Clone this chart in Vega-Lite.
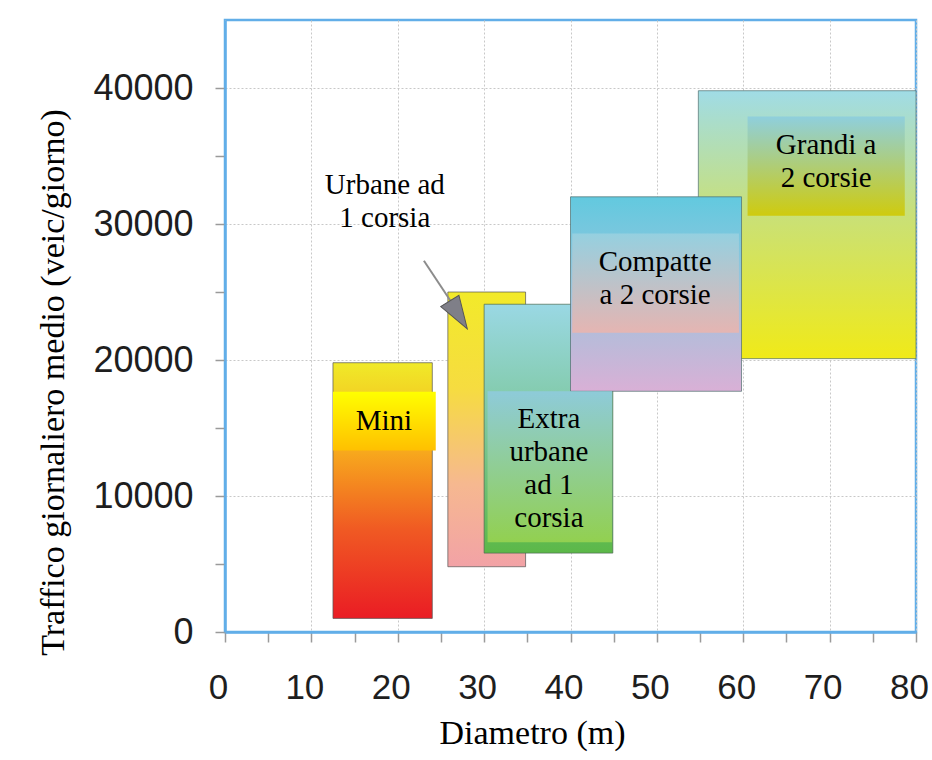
{
  "$schema": "https://vega.github.io/schema/vega-lite/v6.json",
  "width": 691,
  "height": 612,
  "autosize": {"type": "none"},
  "padding": {"left": 225, "top": 20, "right": 16, "bottom": 128},
  "background": "white",
  "config": {"view": {"stroke": "#62aee8", "strokeWidth": 2.5}},
  "datasets": {
    "boxes": [
      {"k": "mini", "x1": 12.5, "x2": 24.0, "y1": 1000, "y2": 19800},
      {"k": "urb", "x1": 25.8, "x2": 34.8, "y1": 4800, "y2": 25000},
      {"k": "ext", "x1": 30, "x2": 44.9, "y1": 5800, "y2": 24100},
      {"k": "gra", "x1": 54.8, "x2": 80, "y1": 20100, "y2": 39800},
      {"k": "com", "x1": 40, "x2": 59.8, "y1": 17700, "y2": 32000},
      {"k": "mini_l", "x1": 12.5, "x2": 24.4, "y1": 13350, "y2": 17670},
      {"k": "ext_l", "x1": 30.4, "x2": 44.8, "y1": 6600, "y2": 17700},
      {"k": "com_l", "x1": 40.2, "x2": 59.5, "y1": 22000, "y2": 29300},
      {"k": "gra_l", "x1": 60.5, "x2": 78.7, "y1": 30600, "y2": 37900}
    ],
    "labels": [
      {"t": "Mini", "x1": 18.4, "y1": 15540},
      {"t": "Extra\nurbane\nad 1\ncorsia", "x1": 37.5, "y1": 15680},
      {"t": "Compatte\na 2 corsie", "x1": 49.8, "y1": 27230},
      {"t": "Grandi a\n2 corsie", "x1": 69.6, "y1": 35830},
      {"t": "Urbane ad\n1 corsia", "x1": 18.5, "y1": 32890}
    ],
    "arrow": [{"x1": 23.03, "y1": 27300, "x2": 26.1, "y2": 24360}],
    "head": [{"x1": 27.04, "y1": 23316}]
  },
  "encoding": {
    "x": {"field": "x1", "type": "quantitative", "scale": {"domain": [0, 80], "nice": false, "zero": false},
      "axis": {"title": "Diametro (m)", "values": [0, 5, 10, 15, 20, 25, 30, 35, 40, 45, 50, 55, 60, 65, 70, 75, 80],
        "format": "d", "labelExpr": "datum.value % 10 === 0 ? datum.label : ''",
        "labelFont": "Liberation Sans", "labelFontSize": 35, "labelColor": "#1e1e1e", "labelPadding": 28, "labelOffset": -7,
        "labelFlush": false, "labelOverlap": false,
        "tickSize": 10, "tickColor": "#9a9a9a", "tickWidth": 1.5,
        "domainColor": "#62aee8", "domainWidth": 2.5,
        "grid": true, "gridDash": [2, 2], "gridColor": "#c8c8c8",
        "gridOpacity": {"condition": {"test": "datum.value % 10 === 0", "value": 1}, "value": 0},
        "titleFont": "Liberation Serif", "titleFontSize": 34, "titleFontWeight": "normal", "titleColor": "#000000",
        "titleX": 307, "titleY": 111, "titleBaseline": "alphabetic"}},
    "y": {"field": "y1", "type": "quantitative", "scale": {"domain": [0, 45000], "nice": false},
      "axis": {"title": "Traffico giornaliero medio (veic/giorno)", "values": [0, 5000, 10000, 15000, 20000, 25000, 30000, 35000, 40000],
        "format": "d", "labelExpr": "datum.value % 10000 === 0 ? datum.label : ''",
        "labelFont": "Liberation Sans", "labelFontSize": 36, "labelColor": "#1e1e1e", "labelPadding": 22,
        "labelFlush": false, "labelOverlap": false,
        "tickSize": 10, "tickColor": "#9a9a9a", "tickWidth": 1.5,
        "domainColor": "#62aee8", "domainWidth": 2.5,
        "grid": true, "gridDash": [2, 2], "gridColor": "#c8c8c8",
        "gridOpacity": {"condition": {"test": "datum.value % 10000 === 0", "value": 1}, "value": 0},
        "titleFont": "Liberation Serif", "titleFontSize": 34, "titleFontWeight": "normal", "titleColor": "#000000",
        "titleAngle": -90, "titleX": -162, "titleY": 362, "titleBaseline": "alphabetic"}}
  },
  "layer": [
    {
      "data": {"name": "boxes"},
      "transform": [{"filter": "datum.k === 'mini'"}],
      "mark": {"type": "rect", "stroke": "#555555", "strokeWidth": 1, "strokeOpacity": 0.7,
        "fill": {"gradient": "linear", "x1": 0, "y1": 0, "x2": 0, "y2": 1, "stops": [
          {"offset": 0, "color": "#f0ea28"}, {"offset": 0.35, "color": "#f7a81d"}, {"offset": 0.65, "color": "#f05a23"}, {"offset": 1, "color": "#ea1c24"}]}},
      "encoding": {"x2": {"field": "x2"}, "y2": {"field": "y2"}}
    },
    {
      "data": {"name": "boxes"},
      "transform": [{"filter": "datum.k === 'urb'"}],
      "mark": {"type": "rect", "stroke": "#555555", "strokeWidth": 1, "strokeOpacity": 0.7,
        "fill": {"gradient": "linear", "x1": 0, "y1": 0, "x2": 0, "y2": 1, "stops": [
          {"offset": 0, "color": "#f2ea2a"}, {"offset": 0.35, "color": "#f6dc40"}, {"offset": 0.7, "color": "#f6b890"}, {"offset": 1, "color": "#f2a2a6"}]}},
      "encoding": {"x2": {"field": "x2"}, "y2": {"field": "y2"}}
    },
    {
      "data": {"name": "boxes"},
      "transform": [{"filter": "datum.k === 'ext'"}],
      "mark": {"type": "rect", "stroke": "#4a6a50", "strokeWidth": 1, "strokeOpacity": 0.7,
        "fill": {"gradient": "linear", "x1": 0, "y1": 0, "x2": 0, "y2": 1, "stops": [
          {"offset": 0, "color": "#9ad8e4"}, {"offset": 0.5, "color": "#7cc79a"}, {"offset": 1, "color": "#5cb848"}]}},
      "encoding": {"x2": {"field": "x2"}, "y2": {"field": "y2"}}
    },
    {
      "data": {"name": "boxes"},
      "transform": [{"filter": "datum.k === 'gra'"}],
      "mark": {"type": "rect", "stroke": "#4f6e6e", "strokeWidth": 1, "strokeOpacity": 0.7,
        "fill": {"gradient": "linear", "x1": 0, "y1": 0, "x2": 0, "y2": 1, "stops": [
          {"offset": 0, "color": "#a0dce6"}, {"offset": 0.45, "color": "#c8e07a"}, {"offset": 1, "color": "#f0ea18"}]}},
      "encoding": {"x2": {"field": "x2"}, "y2": {"field": "y2"}}
    },
    {
      "data": {"name": "boxes"},
      "transform": [{"filter": "datum.k === 'com'"}],
      "mark": {"type": "rect", "stroke": "#4f6e6e", "strokeWidth": 1, "strokeOpacity": 0.7,
        "fill": {"gradient": "linear", "x1": 0, "y1": 0, "x2": 0, "y2": 1, "stops": [
          {"offset": 0, "color": "#62c9df"}, {"offset": 0.5, "color": "#9ec4dc"}, {"offset": 1, "color": "#d9b0d6"}]}},
      "encoding": {"x2": {"field": "x2"}, "y2": {"field": "y2"}}
    },
    {
      "data": {"name": "boxes"},
      "transform": [{"filter": "datum.k === 'mini_l'"}],
      "mark": {"type": "rect",
        "fill": {"gradient": "linear", "x1": 0, "y1": 0, "x2": 0, "y2": 1, "stops": [
          {"offset": 0, "color": "#ffff00"}, {"offset": 1, "color": "#ffc000"}]}},
      "encoding": {"x2": {"field": "x2"}, "y2": {"field": "y2"}}
    },
    {
      "data": {"name": "boxes"},
      "transform": [{"filter": "datum.k === 'ext_l'"}],
      "mark": {"type": "rect",
        "fill": {"gradient": "linear", "x1": 0, "y1": 0, "x2": 0, "y2": 1, "stops": [
          {"offset": 0, "color": "#8ecbd9"}, {"offset": 1, "color": "#92d050"}]}},
      "encoding": {"x2": {"field": "x2"}, "y2": {"field": "y2"}}
    },
    {
      "data": {"name": "boxes"},
      "transform": [{"filter": "datum.k === 'com_l'"}],
      "mark": {"type": "rect",
        "fill": {"gradient": "linear", "x1": 0, "y1": 0, "x2": 0, "y2": 1, "stops": [
          {"offset": 0, "color": "#95d0e0"}, {"offset": 1, "color": "#e5b5b2"}]}},
      "encoding": {"x2": {"field": "x2"}, "y2": {"field": "y2"}}
    },
    {
      "data": {"name": "boxes"},
      "transform": [{"filter": "datum.k === 'gra_l'"}],
      "mark": {"type": "rect",
        "fill": {"gradient": "linear", "x1": 0, "y1": 0, "x2": 0, "y2": 1, "stops": [
          {"offset": 0, "color": "#8fcfdd"}, {"offset": 1, "color": "#cfcb0e"}]}},
      "encoding": {"x2": {"field": "x2"}, "y2": {"field": "y2"}}
    },
    {
      "data": {"name": "arrow"},
      "mark": {"type": "rule", "color": "#8c8c8c", "strokeWidth": 2},
      "encoding": {"x2": {"field": "x2"}, "y2": {"field": "y2"}}
    },
    {
      "data": {"name": "head"},
      "mark": {"type": "point", "shape": "M0,-1L0.65,1L-0.65,1Z", "size": 1089, "angle": 148,
        "filled": true, "fill": "#7f7f88", "stroke": "#555555", "strokeWidth": 1, "opacity": 1},
      "encoding": {}
    },
    {
      "data": {"name": "labels"},
      "mark": {"type": "text", "font": "Liberation Serif", "fontSize": 29, "lineBreak": "\n", "lineHeight": 33,
        "align": "center", "baseline": "middle", "color": "#000000"},
      "encoding": {"text": {"field": "t"}}
    }
  ]
}
